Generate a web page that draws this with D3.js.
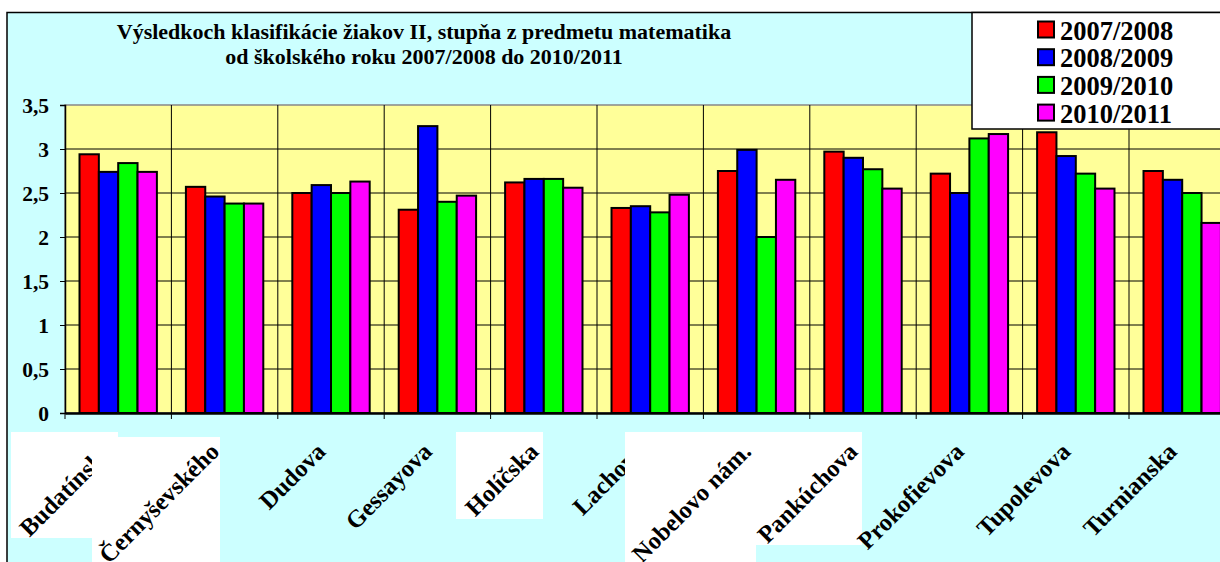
<!DOCTYPE html>
<html><head><meta charset="utf-8">
<script src="https://cdn.jsdelivr.net/npm/d3@7"></script>
<style>html,body{margin:0;padding:0;background:#fff;overflow:hidden}</style>
</head><body>
<svg id="c" width="1220" height="562"></svg>
<script>
const categories = ["Budatínska","Černyševského","Dudova","Gessayova","Holíčska","Lachova","Nobelovo nám.","Pankúchova","Prokofievova","Tupolevova","Turnianska"];
const seriesNames = ["2007/2008","2008/2009","2009/2010","2010/2011"];
const s2007 = [2.94,2.57,2.50,2.31,2.62,2.33,2.75,2.97,2.72,3.19,2.75];
const s2008 = [2.74,2.46,2.59,3.26,2.66,2.35,2.99,2.90,2.50,2.92,2.65];
const s2009 = [2.84,2.38,2.50,2.40,2.66,2.28,2.00,2.77,3.12,2.72,2.50];
const s2010 = [2.74,2.38,2.63,2.47,2.56,2.48,2.65,2.55,3.17,2.55,2.16];
const yTicks = [0,0.5,1,1.5,2,2.5,3,3.5];
const titleLines = ["Výsledkoch klasifikácie žiakov II, stupňa z predmetu matematika","od školského roku 2007/2008 do 2010/2011"];
const colors = ["#FF0000","#0000FF","#00FF00","#FF00FF"];
const seriesValues = [s2007,s2008,s2009,s2010];

(function(){
const svg = d3.select("#c");
const font = "'Liberation Serif','Times New Roman',serif";

// chart area background
svg.append("rect").attr("x",7).attr("y",12.5).attr("width",1300).attr("height",600)
  .attr("fill","#CCFFFF").attr("stroke","#000").attr("stroke-width",1.5);

const pLeft = 65, pTop = 105, pBottom = 413;
const catW = 106.4;
const x0 = d3.scaleBand().domain(categories).range([pLeft, pLeft + catW*categories.length]).padding(0);
const w = x0.bandwidth()/5.5;
const x1 = d3.scaleBand().domain(seriesNames).range([0.75*w, 4.75*w]).padding(0);
const y = d3.scaleLinear().domain([0,3.5]).range([pBottom, pTop]);
const pRight = x0.range()[1];

// plot area
svg.append("rect").attr("x",pLeft).attr("y",pTop).attr("width",pRight-pLeft).attr("height",pBottom-pTop)
  .attr("fill","#FFFF99").attr("stroke","#888").attr("stroke-width",1.5);

// horizontal gridlines
svg.append("g").selectAll("line").data(yTicks.filter(d=>d>0&&d<3.5)).join("line")
  .attr("x1",pLeft).attr("x2",pRight).attr("y1",d=>y(d)).attr("y2",d=>y(d))
  .attr("stroke","#000").attr("stroke-width",1);
// vertical gridlines at category boundaries
svg.append("g").selectAll("line").data(categories.slice(1)).join("line")
  .attr("x1",d=>x0(d)).attr("x2",d=>x0(d)).attr("y1",pTop).attr("y2",pBottom)
  .attr("stroke","#000").attr("stroke-width",1);

// bars
const g = svg.append("g");
categories.forEach((c,i)=>{
  seriesNames.forEach((s,j)=>{
    const v = seriesValues[j][i];
    g.append("rect").attr("x",x0(c)+x1(s)).attr("y",y(v))
      .attr("width",x1.bandwidth()).attr("height",y(0)-y(v))
      .attr("fill",colors[j]).attr("stroke","#000").attr("stroke-width",2);
  });
});

// y axis
const yAxis = d3.axisLeft(y).tickValues(yTicks).tickSize(5).tickFormat(d=>String(d).replace(".",","));
const ya = svg.append("g").attr("transform",`translate(${pLeft},0)`).call(yAxis);
ya.select(".domain").attr("stroke","#000").attr("stroke-width",1.5);
ya.selectAll(".tick line").attr("stroke","#000");
ya.selectAll(".tick text").attr("font-family",font).attr("font-weight","bold").attr("font-size",21.5)
  .attr("fill","#000").attr("x",-16).attr("dy","0.33em");

// x axis
const xAxis = d3.axisBottom(x0).tickValues([]).tickSize(0);
const xa = svg.append("g").attr("transform",`translate(0,${pBottom})`).call(xAxis);
xa.select(".domain").attr("stroke","#000").attr("stroke-width",2.5);
const bounds = categories.map(c=>x0(c)).concat([pRight]);
svg.append("g").selectAll("line").data(bounds).join("line")
  .attr("x1",d=>d).attr("x2",d=>d).attr("y1",pBottom).attr("y2",pBottom+6)
  .attr("stroke","#000").attr("stroke-width",1);

// label background boxes (as in reference)
const boxes = {
  "Budatínska":[[11,432,107,106]],
  "Černyševského":[[92,437,128,130]],
  "Holíčska":[[456,432,87,87]],
  "Nobelovo nám.":[[625,432,237,113],[625,432,131,135]]
};
const lg = svg.append("g");
categories.forEach(c=>{
  (boxes[c]||[]).forEach(b=>{
    lg.append("rect").attr("x",b[0]).attr("y",b[1]).attr("width",b[2]).attr("height",b[3]).attr("fill","#fff");
  });
  const cx = x0(c)+x0.bandwidth()/2;
  lg.append("text").attr("transform",`translate(${cx-4},${453}) rotate(-45)`)
    .attr("text-anchor","end").attr("font-family",font).attr("font-weight","bold").attr("font-size",24.5)
    .attr("fill","#000").text(c);
});

// title
svg.append("g").selectAll("text").data(titleLines).join("text")
  .attr("x",424).attr("y",(d,i)=>39+i*24.5).attr("text-anchor","middle")
  .attr("font-family",font).attr("font-weight","bold").attr("font-size",22).attr("fill","#000").text(d=>d);

// legend
const leg = svg.append("g");
leg.append("rect").attr("x",972).attr("y",12.5).attr("width",300).attr("height",116.5)
  .attr("fill","#fff").attr("stroke","#000").attr("stroke-width",1.5);
seriesNames.forEach((s,j)=>{
  const cy = 30 + j*27.7;
  leg.append("rect").attr("x",1038).attr("y",cy-8.5).attr("width",16).attr("height",16)
    .attr("fill",colors[j]).attr("stroke","#000").attr("stroke-width",2);
  leg.append("text").attr("x",1060).attr("y",cy+9.5).attr("font-family",font).attr("font-weight","bold")
    .attr("font-size",26.5).attr("fill","#000").text(s);
});
})();
</script>
</body></html>
